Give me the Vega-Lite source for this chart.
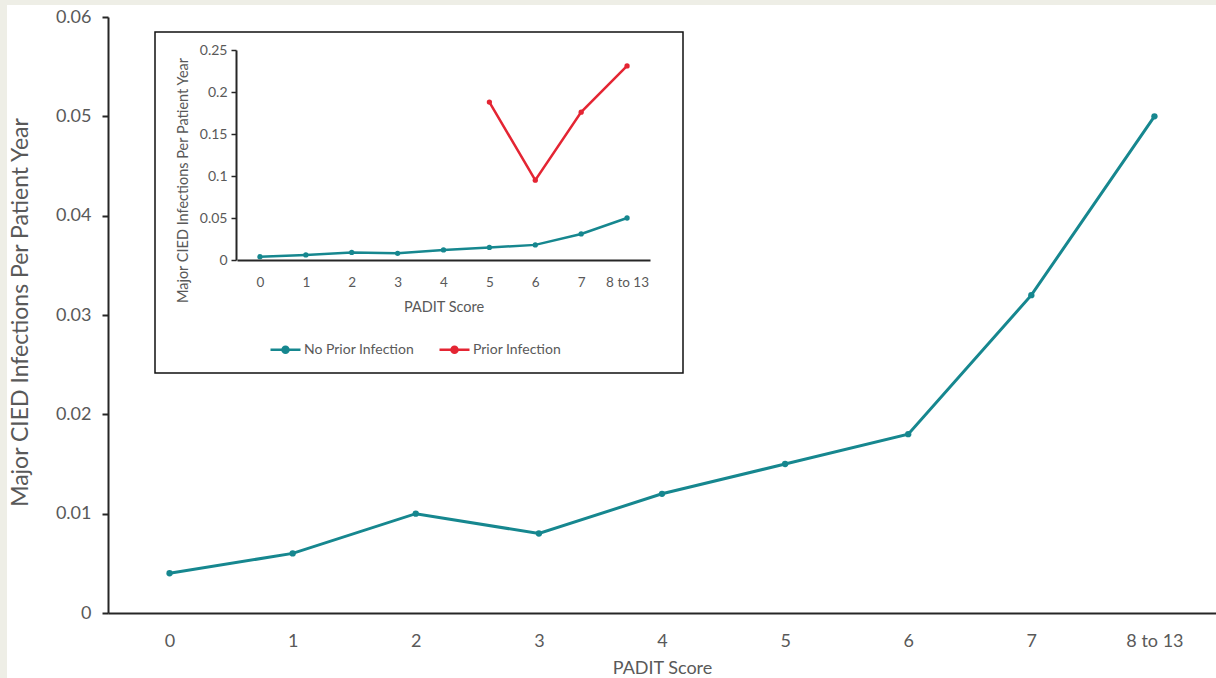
{
  "$schema": "https://vega.github.io/schema/vega-lite/v6.json",
  "width": 1108,
  "height": 596,
  "autosize": "none",
  "padding": {"left": 108, "top": 17, "right": 0, "bottom": 65},
  "background": "#eeeee6",
  "config": {"view": {"stroke": null}, "font": "Lato"},
  "layer": [
    {
      "data": {"values": [{}]},
      "mark": {"type": "rect", "fill": "white"},
      "encoding": {"x": {"value": -101}, "x2": {"value": 1108}, "y": {"value": -12}, "y2": {"value": 661}}
    },
    {
      "data": {"values": [
        {"score": "0", "rate": 0.004},
        {"score": "1", "rate": 0.006},
        {"score": "2", "rate": 0.010},
        {"score": "3", "rate": 0.008},
        {"score": "4", "rate": 0.012},
        {"score": "5", "rate": 0.015},
        {"score": "6", "rate": 0.018},
        {"score": "7", "rate": 0.032},
        {"score": "8 to 13", "rate": 0.050}
      ]},
      "encoding": {
        "x": {"field": "score", "type": "nominal", "sort": null,
          "axis": {"zindex": 1, "labelAngle": 0, "ticks": false, "tickSize": 0, "labelPadding": 19, "labelFontSize": 18, "labelColor": "#595959",
            "domainColor": "#262626", "domainWidth": 2, "title": "PADIT Score", "titleFontSize": 18, "titleFontWeight": "normal",
            "titleColor": "#595959", "titleY": 55, "titleBaseline": "middle"}},
        "y": {"field": "rate", "type": "quantitative", "scale": {"domain": [0, 0.06], "nice": false},
          "axis": {"zindex": 1, "values": [0, 0.01, 0.02, 0.03, 0.04, 0.05, 0.06], "format": "~g", "grid": false,
            "domainColor": "#262626", "domainWidth": 2, "tickColor": "#262626", "tickWidth": 2, "tickSize": 6,
            "labelFontSize": 18, "labelColor": "#595959", "labelPadding": 11,
            "title": "Major CIED Infections Per Patient Year", "titleFontSize": 23, "titleFontWeight": "normal", "titleColor": "#595959",
            "titleX": -88, "titleY": 295, "titleAngle": -90, "titleAlign": "center", "titleBaseline": "middle"}}
      },
      "layer": [
        {"mark": {"type": "line", "color": "#16878f", "strokeWidth": 3}},
        {"mark": {"type": "point", "filled": true, "color": "#16878f", "size": 40, "opacity": 1}}
      ]
    },
    {
      "data": {"values": [{}]},
      "mark": {"type": "rect", "fill": "white", "stroke": "#111111", "strokeWidth": 1.5},
      "encoding": {"x": {"value": 47}, "x2": {"value": 575}, "y": {"value": 15}, "y2": {"value": 356}}
    },
    {
      "data": {"values": [
        {"score": "0", "series": "No Prior Infection", "rate": 0.004},
        {"score": "1", "series": "No Prior Infection", "rate": 0.006},
        {"score": "2", "series": "No Prior Infection", "rate": 0.009},
        {"score": "3", "series": "No Prior Infection", "rate": 0.008},
        {"score": "4", "series": "No Prior Infection", "rate": 0.012},
        {"score": "5", "series": "No Prior Infection", "rate": 0.015},
        {"score": "6", "series": "No Prior Infection", "rate": 0.018},
        {"score": "7", "series": "No Prior Infection", "rate": 0.031},
        {"score": "8 to 13", "series": "No Prior Infection", "rate": 0.050},
        {"score": "5", "series": "Prior Infection", "rate": 0.188},
        {"score": "6", "series": "Prior Infection", "rate": 0.095},
        {"score": "7", "series": "Prior Infection", "rate": 0.176},
        {"score": "8 to 13", "series": "Prior Infection", "rate": 0.231}
      ]},
      "encoding": {
        "x": {"field": "score", "type": "nominal", "sort": ["0", "1", "2", "3", "4", "5", "6", "7", "8 to 13"],
          "scale": {"domain": ["0", "1", "2", "3", "4", "5", "6", "7", "8 to 13"], "range": [129, 542]},
          "axis": {"zindex": 1, "orient": "bottom", "offset": -353, "labelAngle": 0, "ticks": false, "tickSize": 0, "labelPadding": 15,
            "labelFontSize": 13.5, "labelColor": "#595959", "domainColor": "#262626", "domainWidth": 2,
            "title": "PADIT Score", "titleFontSize": 14.5, "titleFontWeight": "normal", "titleColor": "#595959",
            "titleY": 47, "titleBaseline": "middle"}},
        "y": {"field": "rate", "type": "quantitative", "scale": {"domain": [0, 0.25], "nice": false, "range": [243, 33]},
          "axis": {"zindex": 1, "orient": "left", "offset": -128, "values": [0, 0.05, 0.1, 0.15, 0.2, 0.25], "format": "~g", "grid": false,
            "domainColor": "#262626", "domainWidth": 2, "tickColor": "#262626", "tickWidth": 1.5, "tickSize": 5,
            "labelFontSize": 14, "labelColor": "#595959", "labelPadding": 4,
            "title": "Major CIED Infections Per Patient Year", "titleFontSize": 14.5, "titleFontWeight": "normal", "titleColor": "#595959",
            "titleX": -53, "titleY": 163, "titleAngle": -90, "titleAlign": "center", "titleBaseline": "middle"}},
        "color": {"field": "series", "type": "nominal",
          "scale": {"domain": ["No Prior Infection", "Prior Infection"], "range": ["#16878f", "#e42533"]},
          "legend": {"orient": "none", "legendX": 161, "legendY": 316, "direction": "horizontal", "title": null, "padding": 0,
            "symbolType": "M -1 0 L 1 0 M 0.2 0 A 0.2 0.2 0 1 1 -0.2 0 A 0.2 0.2 0 1 1 0.2 0",
            "symbolSize": 900, "symbolStrokeWidth": 2.5, "labelFontSize": 14, "labelColor": "#595959", "labelOffset": 2,
            "columnPadding": 20,
            "encode": {"symbols": {"update": {
              "fill": {"signal": "datum.value == 'Prior Infection' ? '#e42533' : '#16878f'"},
              "stroke": {"signal": "datum.value == 'Prior Infection' ? '#e42533' : '#16878f'"},
              "opacity": {"value": 1}, "fillOpacity": {"value": 1}, "strokeOpacity": {"value": 1}}}}}}
      },
      "layer": [
        {"mark": {"type": "line", "strokeWidth": 2.5}},
        {"mark": {"type": "point", "filled": true, "size": 28, "opacity": 1}}
      ]
    }
  ],
  "resolve": {"scale": {"x": "independent", "y": "independent", "color": "independent"}, "axis": {"x": "independent", "y": "independent"}}
}
